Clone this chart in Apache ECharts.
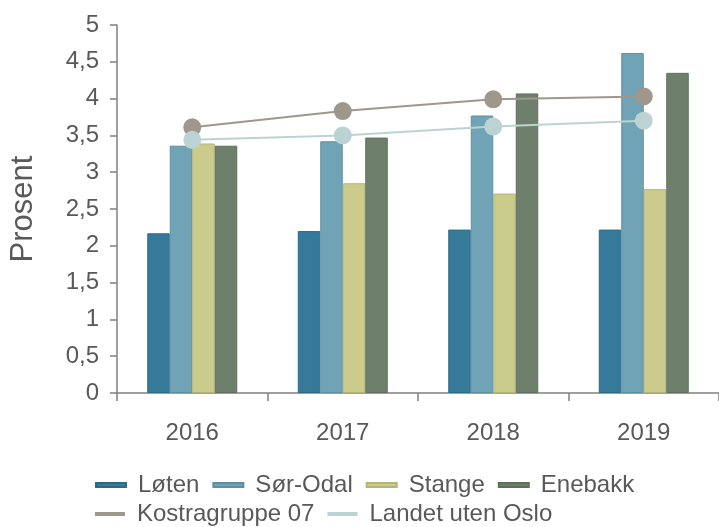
<!DOCTYPE html>
<html>
<head>
<meta charset="utf-8">
<script src="https://cdn.jsdelivr.net/npm/echarts@6/dist/echarts.min.js"></script>
<style>
html,body{margin:0;padding:0;background:#fff;}
#chart{width:719px;height:527px;}
</style>
</head>
<body>
<div id="chart"></div>
<script>
const categories = ['2016', '2017', '2018', '2019'];
const loten = [2.17, 2.20, 2.22, 2.22];
const sorOdal = [3.36, 3.42, 3.77, 4.62];
const stange = [3.39, 2.85, 2.71, 2.77];
const enebakk = [3.36, 3.47, 4.07, 4.35];
const kostra07 = [3.61, 3.83, 3.99, 4.03];
const landetUtenOslo = [3.44, 3.50, 3.62, 3.70];
const yTicks = [0, 0.5, 1, 1.5, 2, 2.5, 3, 3.5, 4, 4.5, 5];

const FONT = 'Liberation Sans, Arial, sans-serif';
const TXT = '#595959';
const AX = '#808080';

function bar(name, data, color, border) {
  return {
    name: name, type: 'bar', data: data, barWidth: 22.5, barGap: '0%',
    itemStyle: { color: color, borderColor: border, borderWidth: 1 },
    emphasis: { disabled: true }, z: 2
  };
}
function line(name, data, color) {
  return {
    name: name, type: 'line', data: data, symbol: 'circle', symbolSize: 18,
    lineStyle: { color: color, width: 2 },
    itemStyle: { color: color },
    emphasis: { disabled: true }, z: 3
  };
}

const chart = echarts.init(document.getElementById('chart'), null, { renderer: 'canvas' });
chart.setOption({
  animation: false,
  backgroundColor: '#ffffff',
  textStyle: { fontFamily: FONT },
  grid: { left: 116, top: 25, width: 608, height: 368, containLabel: false },
  legend: [
    {
      data: ['Løten', 'Sør-Odal', 'Stange', 'Enebakk'],
      left: 95, top: 473, padding: 0, itemGap: 13, itemWidth: 30, itemHeight: 4,
      icon: 'rect', selectedMode: false,
      textStyle: { fontFamily: FONT, fontSize: 24, color: TXT, padding: [0, 0, 0, 7] }
    },
    {
      data: ['Kostragruppe 07', 'Landet uten Oslo'],
      left: 95, top: 502, padding: 0, itemGap: 13, itemWidth: 30, itemHeight: 4,
      icon: 'rect', selectedMode: false,
      textStyle: { fontFamily: FONT, fontSize: 24, color: TXT, padding: [0, 0, 0, 7] }
    }
  ],
  xAxis: {
    type: 'category', data: categories,
    axisLine: { lineStyle: { color: AX, width: 1.5 } },
    axisTick: { show: true, alignWithLabel: false, length: 8, lineStyle: { color: AX, width: 1.5 } },
    axisLabel: { fontFamily: FONT, fontSize: 24, color: TXT, margin: 28 },
    splitLine: { show: false }
  },
  yAxis: {
    type: 'value', min: 0, max: 5, interval: 0.5,
    name: 'Prosent', nameLocation: 'middle', nameGap: 78,
    nameTextStyle: { fontFamily: FONT, fontSize: 31, color: TXT },
    axisLine: { show: true, lineStyle: { color: AX, width: 1.5 } },
    axisTick: { show: true, length: 7, lineStyle: { color: AX, width: 1.5 } },
    axisLabel: {
      fontFamily: FONT, fontSize: 24, color: TXT, margin: 18,
      formatter: function (v) { return yTicks.indexOf(v) >= 0 ? String(v).replace('.', ',') : ''; }
    },
    splitLine: { show: false }
  },
  series: [
    bar('Løten', loten, '#357a99', '#2c6a86'),
    bar('Sør-Odal', sorOdal, '#6fa3b5', '#5d90a3'),
    bar('Stange', stange, '#cbcc8b', '#b3b577'),
    bar('Enebakk', enebakk, '#6e806b', '#5e705c'),
    line('Kostragruppe 07', kostra07, '#a0978c'),
    line('Landet uten Oslo', landetUtenOslo, '#bcd3d3')
  ]
});
</script>
</body>
</html>
